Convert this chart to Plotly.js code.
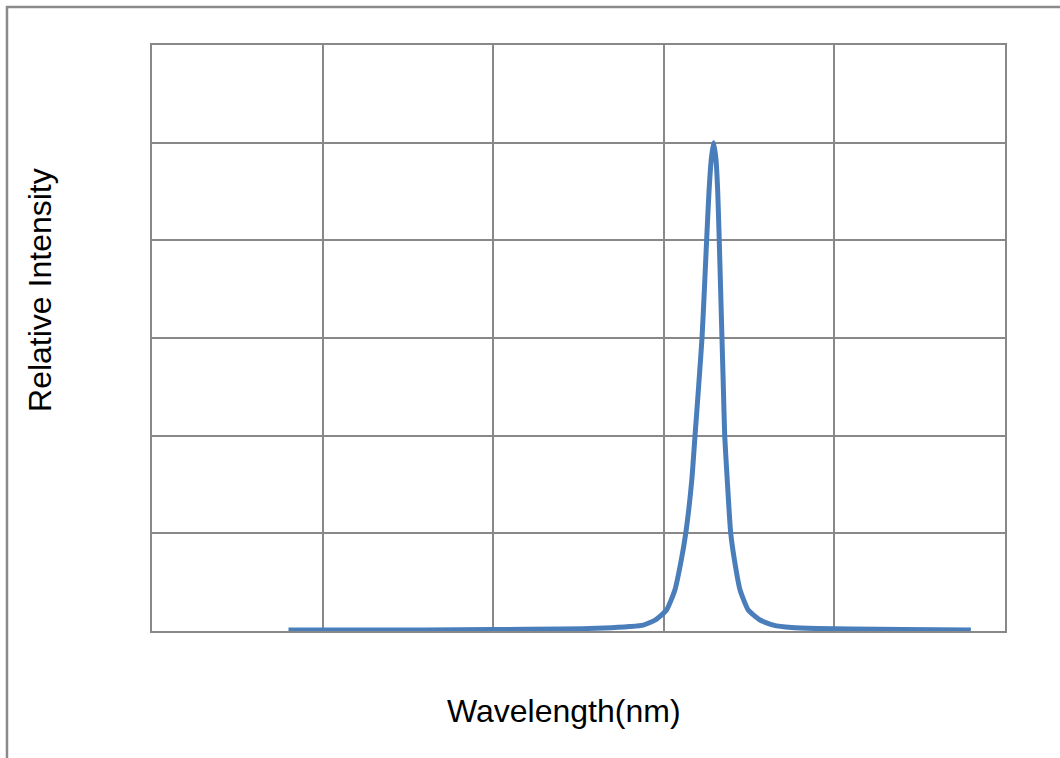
<!DOCTYPE html>
<html>
<head>
<meta charset="utf-8">
<script src="https://cdn.plot.ly/plotly-3.0.1.min.js"></script>
<style>
  html, body { margin: 0; padding: 0; background: #fff; }
  #chart { width: 1060px; height: 758px; }
</style>
</head>
<body>
<div id="chart"></div>
<script>
// Emission spectrum (wavelength in nm, relative intensity)
const wavelength = [380, 420, 460, 500, 540, 565, 580, 588, 595, 601.6, 606.5, 609.9, 612.9, 616.4, 618.3, 620.4, 622.4, 623.8, 625.1, 626.5, 627.8, 629.2, 630.6, 631.6, 632.5, 633.3, 634.1, 634.9, 635.7, 637.2, 639.2, 641.7, 644.7, 649.5, 656.4, 664.2, 675, 690, 710, 740, 780];
const intensity  = [0.002, 0.002, 0.002, 0.003, 0.004, 0.006, 0.009, 0.012, 0.0225, 0.043, 0.084, 0.139, 0.201, 0.309, 0.4, 0.5, 0.6, 0.7, 0.8, 0.9, 0.965, 1.0, 0.965, 0.9, 0.8, 0.7, 0.6, 0.5, 0.4, 0.309, 0.201, 0.139, 0.084, 0.043, 0.0225, 0.012, 0.007, 0.005, 0.004, 0.003, 0.002];

const xTitle = "Wavelength(nm)";
const yTitle = "Relative Intensity";
const xRange = [300, 800];
const yRange = [0, 1.2];

const gridColor = "#888888";

const trace = {
  x: wavelength,
  y: intensity,
  type: "scatter",
  mode: "lines",
  line: { color: "#4a7ebb", width: 5, shape: "spline", smoothing: 0.5 },
  hoverinfo: "skip"
};

const axisCommon = {
  showticklabels: false,
  ticks: "",
  showgrid: true,
  gridcolor: gridColor,
  gridwidth: 2,
  zeroline: false,
  showline: true,
  linecolor: gridColor,
  linewidth: 2,
  mirror: true,
  automargin: false
};

const layout = {
  width: 1060,
  height: 758,
  margin: { l: 152, r: 55, t: 45, b: 127 },
  paper_bgcolor: "#ffffff",
  plot_bgcolor: "#ffffff",
  showlegend: false,
  font: { family: "Liberation Sans, Arial, sans-serif", color: "#000000" },
  xaxis: Object.assign({ range: xRange, dtick: 100, tick0: 300 }, axisCommon),
  yaxis: Object.assign({ range: yRange, dtick: 0.2, tick0: 0 }, axisCommon),
  annotations: [
    {
      text: xTitle,
      xref: "paper", yref: "paper",
      x: 0.483, y: -0.1365,
      xanchor: "center", yanchor: "middle",
      showarrow: false,
      font: { size: 32, color: "#000" }
    },
    {
      text: yTitle,
      xref: "paper", yref: "paper",
      x: -0.1313, y: 0.582,
      xanchor: "center", yanchor: "middle",
      textangle: -90,
      showarrow: false,
      font: { size: 32, color: "#000" }
    }
  ],
  shapes: [
    {
      type: "path",
      xref: "paper", yref: "paper",
      path: "M -0.17 -0.3 L -0.17 1.0648 L 1.1 1.0648",
      line: { color: "#8a8a8a", width: 2.5 }
    }
  ]
};

Plotly.newPlot("chart", [trace], layout, { displayModeBar: false, staticPlot: true });
</script>
</body>
</html>
